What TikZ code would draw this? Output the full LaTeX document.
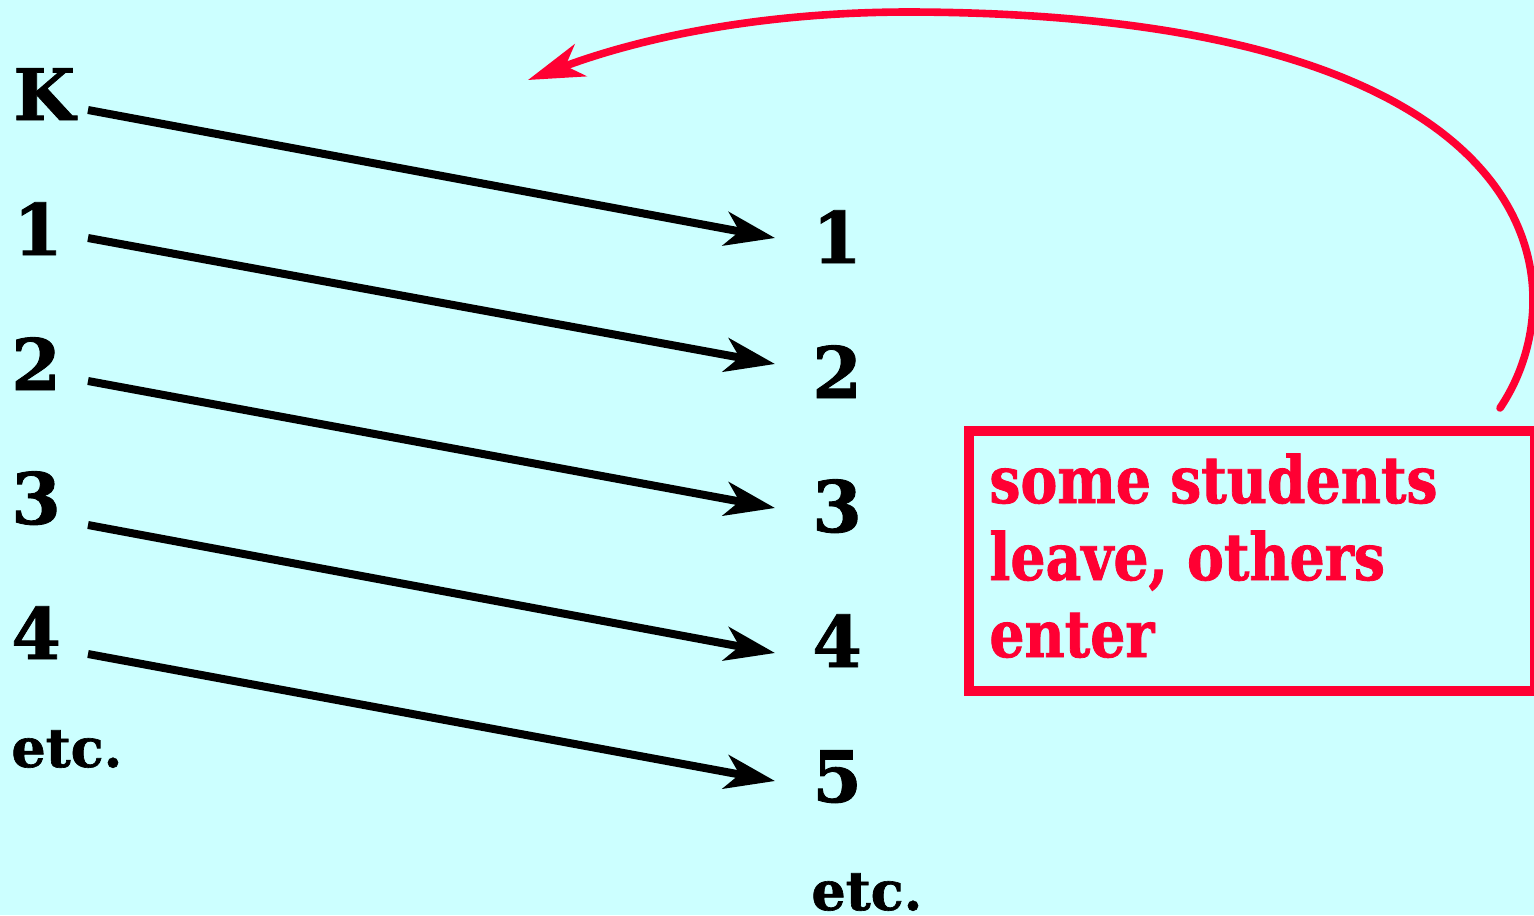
\documentclass[tikz,border=0pt]{standalone}
\usepackage{fontspec}
\setmainfont{DejaVu Serif}
\newfontfamily\redfont[FakeStretch=0.85,FakeBold=1.2]{DejaVu Serif}
\newfontfamily\blkfont[FakeBold=1.2]{DejaVu Serif}
\usetikzlibrary{arrows.meta}
\definecolor{bg}{HTML}{CCFFFF}
\definecolor{myred}{HTML}{FF0033}
\tikzset{
  num/.style={anchor=base west, inner sep=0pt, font=\blkfont\bfseries\fontsize{35.5}{40}\selectfont},
  etcs/.style={anchor=base west, inner sep=0pt, font=\blkfont\bfseries\fontsize{27}{30}\selectfont},
  arr/.style={line width=4pt, -{Stealth[length=25pt, width=17pt, inset=7pt]}},
  redarr/.style={myred, line width=3.8pt, line cap=round, -{Stealth[length=28pt, width=17pt, inset=8pt]}},
  boxst/.style={draw=myred, line width=5pt, inner sep=0pt},
  msg/.style={anchor=base west, inner sep=0pt, align=left, text=myred, font=\redfont\bfseries\fontsize{32.5}{38.5}\selectfont}
}
\begin{document}
\begin{tikzpicture}[x=0.5pt, y=-0.5pt]
\fill[bg] (0,0) rectangle (1534,915);
\useasboundingbox (0,0) rectangle (1534,915);
% left column
\node[num] (L0) at (13,120) {K};
\node[num] (L1) at (13,255) {1};
\node[num] (L2) at (11,390) {2};
\node[num] (L3) at (11,524) {3};
\node[num] (L4) at (11,659) {4};
\node[etcs] (Letc) at (11,767) {etc.};
% right column
\node[num] (R1) at (812,263) {1};
\node[num] (R2) at (812,398) {2};
\node[num] (R3) at (812,532) {3};
\node[num] (R4) at (812,667) {4};
\node[num] (R5) at (812,802) {5};
\node[etcs] (Retc) at (811,910) {etc.};
% arrow end points
\coordinate (s0) at (88,110);
\coordinate (s1) at (88,238);
\coordinate (s2) at (88,381);
\coordinate (s3) at (88,525);
\coordinate (s4) at (88,654);
\coordinate (t1) at (775,238);
\coordinate (t2) at (775,364);
\coordinate (t3) at (775,508);
\coordinate (t4) at (775,653);
\coordinate (t5) at (775,781);
\draw[arr] (s0) -- (t1);
\draw[arr] (s1) -- (t2);
\draw[arr] (s2) -- (t3);
\draw[arr] (s3) -- (t4);
\draw[arr] (s4) -- (t5);
% red box
\node[boxst, minimum width=283pt, minimum height=130pt, anchor=north west] (box) at (964,426) {};
\node[msg] (txt) at (989,657) {some students\\leave, others\\enter};
% red curved arrow
\coordinate (c0) at (1500,408);
\coordinate (c1) at (910,12);
\coordinate (c2) at (528,80);
\draw[redarr] (c0) .. controls (1580,290) and (1560,14) .. (c1) .. controls (760,12) and (640,38) .. (c2);
\end{tikzpicture}
\end{document}
